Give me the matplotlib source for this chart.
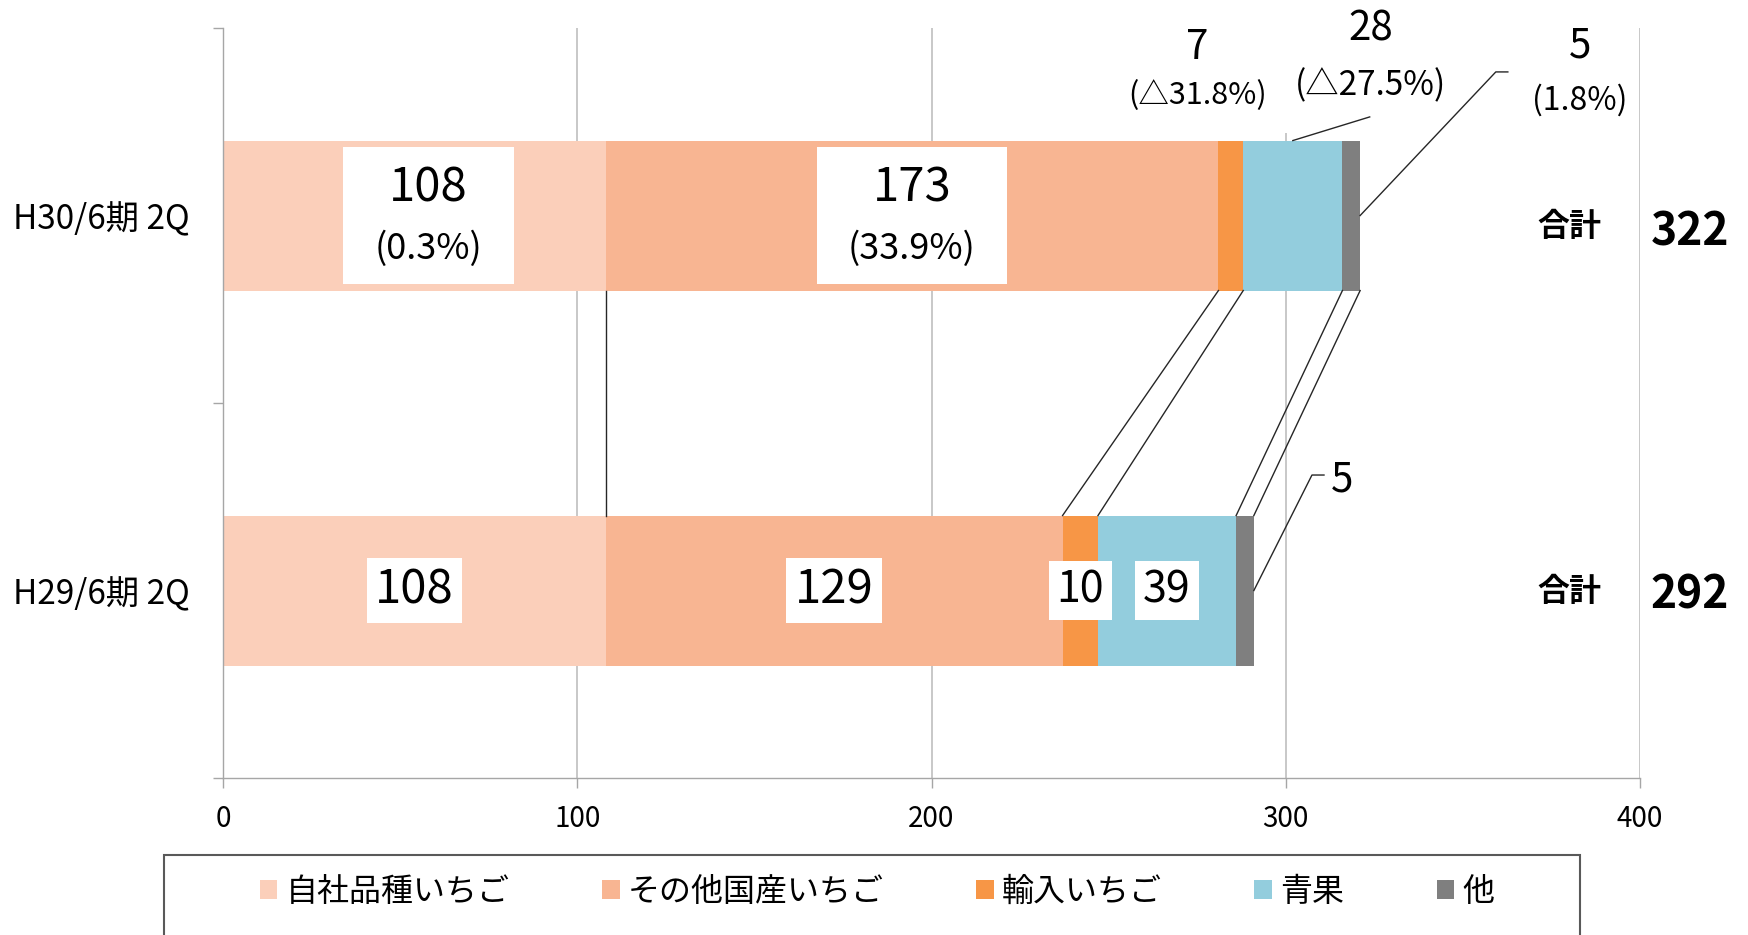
import numpy as np
import matplotlib
matplotlib.use('Agg')
import matplotlib.pyplot as plt
from matplotlib.patches import Rectangle
from matplotlib.offsetbox import TextArea, VPacker, AnnotationBbox

plt.rcParams['font.family'] = ['Noto Sans CJK JP', 'DejaVu Sans']

# data (categories bottom -> top)
periods = ['H29/6期 2Q', 'H30/6期 2Q']
series = ['自社品種いちご', 'その他国産いちご', '輸入いちご', '青果', '他']
h29 = [108, 129, 10, 39, 5]
h30 = [108, 173, 7, 28, 5]
totals = [292, 322]
pct30 = ['(0.3%)', '(33.9%)', '(△31.8%)', '(△27.5%)', '(1.8%)']
xticks = [0, 100, 200, 300, 400]
colors = ['#FBCFBA', '#F8B592', '#F79646', '#93CDDD', '#7F7F7F']

GRID = '#BFBFBF'; AXC = '#A6A6A6'; LINE = '#262626'; H = 0.4

fig = plt.figure(figsize=(17.48, 9.35), dpi=100)
ax = fig.add_axes([0.1276, 0.1679, 0.8106, 0.8021])

vals = np.array([h29, h30])
left = np.zeros(2)
bars = []
for i, name in enumerate(series):
    bars.append(ax.barh([0, 1], vals[:, i], left=left, height=H, color=colors[i], label=name, zorder=2))
    left = left + vals[:, i]
cum = np.cumsum(vals, axis=1)
mid = cum - vals / 2

# series lines between the two bars
for k in range(len(series)):
    ax.plot([cum[1, k], cum[0, k]], [1 - H/2, H/2], color=LINE, lw=1.0, zorder=3)

def label(x, y, lines, sizes, boxed=False, pad=0.0, width=None, sep=2):
    kids = [TextArea(s, textprops=dict(size=z, color='black')) for s, z in zip(lines, sizes)]
    box = VPacker(children=kids, align='center', pad=0, sep=sep, width=width)
    ab = AnnotationBbox(box, (x, y), xycoords='data', frameon=boxed, pad=pad, fontsize=10,
                        bboxprops=dict(fc='white', ec='none'), box_alignment=(0.5, 0.5),
                        zorder=5, annotation_clip=False)
    ax.add_artist(ab)

# H30 boxed labels
label(mid[1, 0] + 4, 1.0, [str(h30[0]), pct30[0]], [34, 26], boxed=True, pad=1.25, width=136, sep=13)
label(mid[1, 1], 1.0, [str(h30[1]), pct30[1]], [34, 26], boxed=True, pad=1.25, width=156, sep=13)
# H30 callouts
label(275, 1.391, [str(h30[2]), pct30[2]], [29, 22], sep=9)
label(324, 1.426, [str(h30[3]), pct30[3]], [29, 24], boxed=True, pad=2.2, sep=13)
label(383, 1.385, [str(h30[4]), pct30[4]], [29, 23], sep=13)
ax.plot([mid[1, 3], 323.7], [1 + H/2, 1.263], color=LINE, lw=1.0, zorder=6, clip_on=False)
ax.plot([cum[1, 4], 359.3, 362.7], [1.0, 1.383, 1.383], color=LINE, lw=1.0, zorder=6, clip_on=False)

# H29 labels
for k, sz in zip(range(4), [34, 34, 31, 31]):
    ax.text(mid[0, k], 0, str(h29[k]), ha='center', va='center', fontsize=sz, zorder=5,
            bbox=dict(boxstyle='square,pad=0.18', fc='white', ec='none'))
ax.text(316, 0.295, str(h29[4]), ha='center', va='center', fontsize=29, zorder=5)
ax.plot([cum[0, 4], 307.4, 310.8], [0.0, 0.308, 0.308], color=LINE, lw=1.0, zorder=6)

# totals
for i, (d1, d2) in enumerate([(-0.005, -0.012), (-0.03, -0.045)]):
    ax.text(380, i + d1, '合計', ha='center', va='center', fontsize=23, fontweight='bold', clip_on=False)
    ax.text(414, i + d2, str(totals[i]), ha='center', va='center', fontsize=32, fontweight='bold', clip_on=False)

ax.set_xlim(0, 400); ax.set_ylim(-0.5, 1.5)
ax.set_xticks(xticks)
ax.set_yticks([0, 1]); ax.set_yticklabels(periods)
ax.set_yticks([-0.5, 0.5, 1.5], minor=True)
ax.tick_params(axis='y', which='major', length=0, pad=24, labelsize=24)
ax.tick_params(axis='y', which='minor', length=7, color=AXC, width=1)
ax.tick_params(axis='x', length=7, color=AXC, width=1, pad=12, labelsize=20)
for s in ['top', 'right']:
    ax.spines[s].set_visible(False)
for s in ['left', 'bottom']:
    ax.spines[s].set_color(AXC); ax.spines[s].set_linewidth(1)
ax.xaxis.grid(True, color=GRID, lw=1.2); ax.set_axisbelow(True)

fig.legend(handles=bars, labels=series, loc='center', bbox_to_anchor=(0.5017, 0.046), ncol=5,
           frameon=False, fontsize=23, handlelength=0.55, handleheight=0.55,
           handletextpad=0.25, columnspacing=2.9)
fig.add_artist(Rectangle((164/1748, -0.2), (1580-164)/1748, 0.2 + 0.0856, transform=fig.transFigure,
                         fill=False, ec='#595959', lw=1.5))

fig.savefig('out.png', dpi=100)
